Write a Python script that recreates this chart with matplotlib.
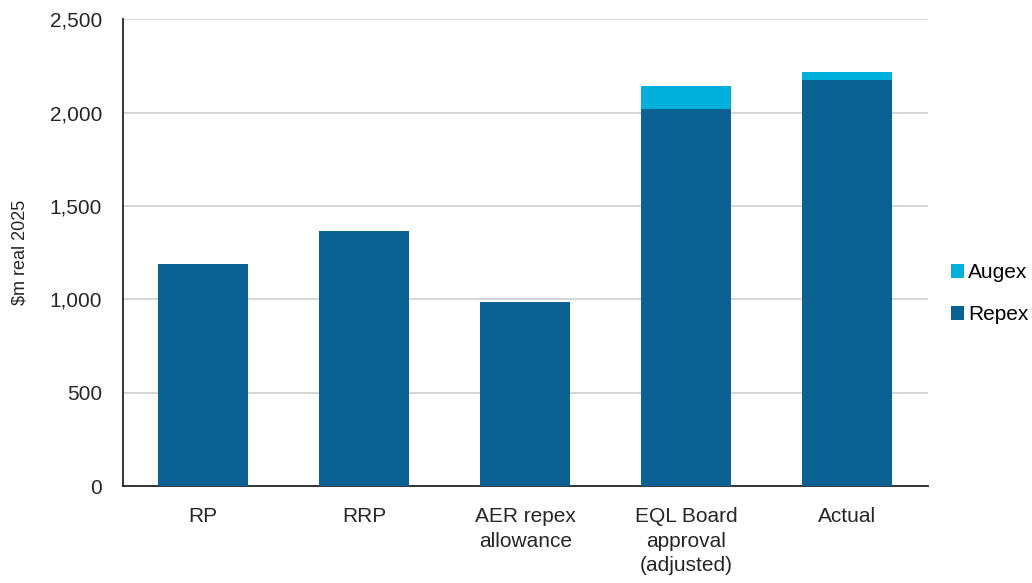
import numpy as np
import matplotlib.pyplot as plt

plt.rcParams['font.family'] = ['Liberation Sans', 'DejaVu Sans']

categories = ['RP', 'RRP', 'AER repex\nallowance', 'EQL Board\napproval\n(adjusted)', 'Actual']
repex = [1187, 1368, 985, 2020, 2176]
augex = [0, 0, 0, 121, 42]

fig = plt.figure(figsize=(10.32, 5.83), dpi=100)
ax = fig.add_axes([0.119, 0.166, 0.780, 0.801])

x = np.arange(len(categories))
ax.bar(x, repex, width=0.56, color='#0B6094', label='Repex', zorder=3)
ax.bar(x, augex, width=0.56, bottom=repex, color='#00B0DA', label='Augex', zorder=3)

ax.set_xlim(-0.5, len(categories) - 0.5)
ax.set_ylim(0, 2500)
ax.set_yticks(np.arange(0, 2501, 500))
ax.set_yticklabels([f'{v:,}' for v in range(0, 2501, 500)])
ax.set_xticks(x)
ax.set_xticklabels(categories, linespacing=1.37)
ax.tick_params(axis='both', length=0, labelsize=15, colors='#262626')
ax.tick_params(axis='x', pad=15)
ax.tick_params(axis='y', pad=15)
ax.grid(axis='y', color='#D0D0D0', linewidth=1.2, zorder=0)

for s in ['top', 'right']:
    ax.spines[s].set_visible(False)
ax.spines['left'].set_color('#262626')
ax.spines['bottom'].set_color('#262626')
ax.spines['left'].set_linewidth(1.3)
ax.spines['bottom'].set_linewidth(1.3)

ax.set_ylabel('$m real 2025', fontsize=13, color='#262626', labelpad=15)

handles, labels = ax.get_legend_handles_labels()
ax.legend(handles[::-1], labels[::-1], loc='center left', bbox_to_anchor=(1.0286, 0.412),
          frameon=False, fontsize=15, handlelength=0.63, handleheight=0.63,
          handletextpad=0.2, labelspacing=1.1, borderpad=0, borderaxespad=0)

fig.savefig('out.png', dpi=100)
